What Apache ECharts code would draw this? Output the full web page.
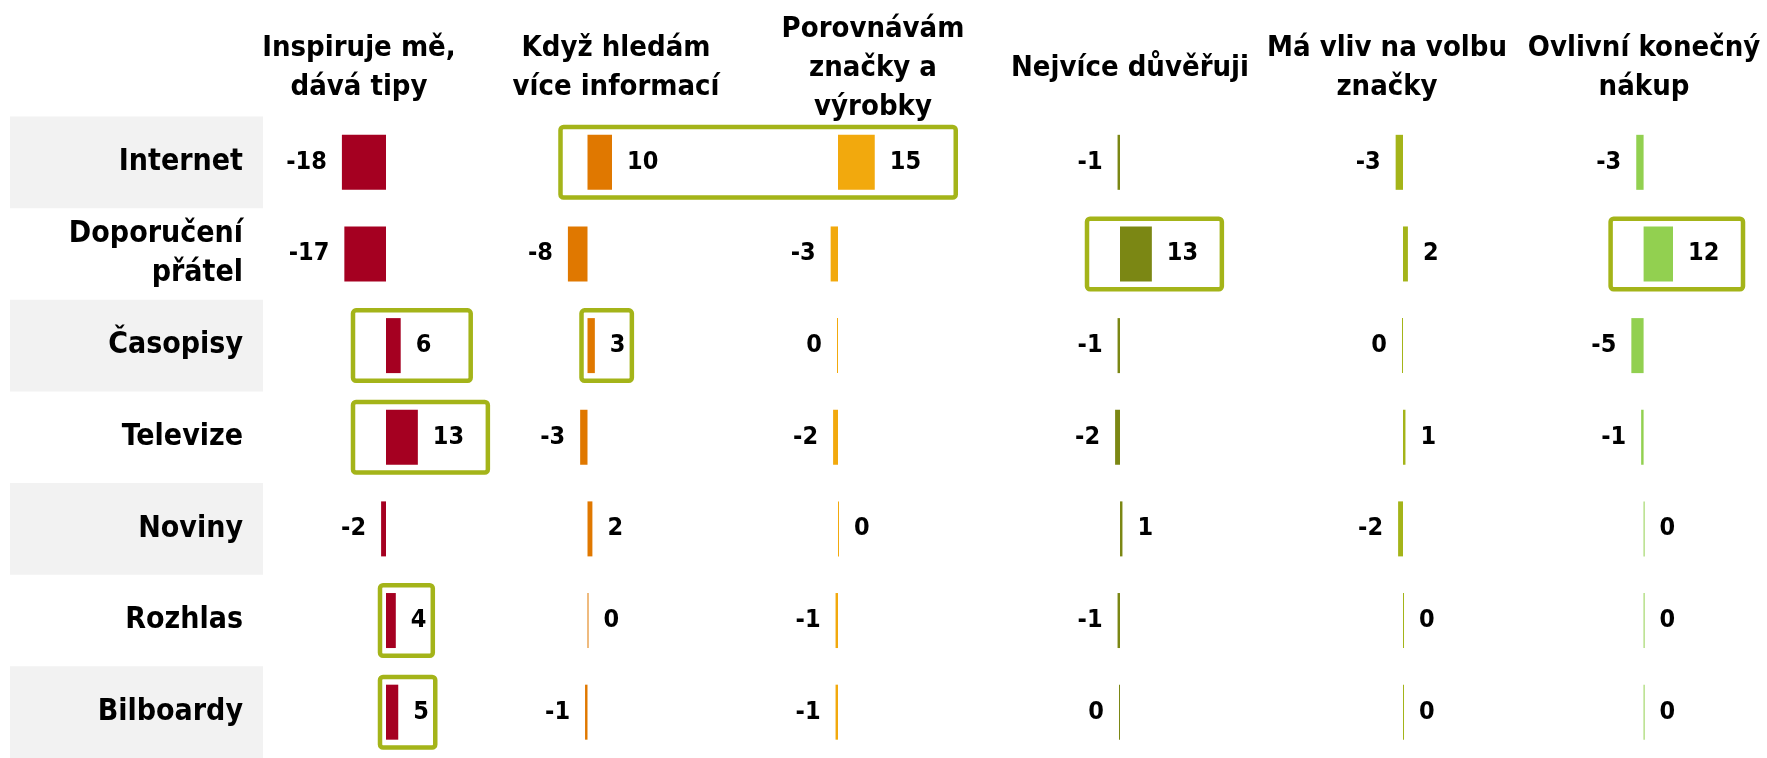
<!DOCTYPE html>
<html>
<head>
<meta charset="utf-8">
<script src="https://cdn.jsdelivr.net/npm/echarts@6/dist/echarts.min.js"></script>
<style>
  html, body { margin: 0; padding: 0; background: #fff; }
  #chart { width: 1767px; height: 758px; }
</style>
</head>
<body>
<div id="chart"></div>
<script>
// rows, top to bottom
var categories = ['Internet', 'Doporučení\npřátel', 'Časopisy', 'Televize', 'Noviny', 'Rozhlas', 'Bilboardy'];
var metrics = ['Inspiruje mě,\ndává tipy', 'Když hledám\nvíce informací', 'Porovnávám\nznačky a\nvýrobky',
  'Nejvíce důvěřuji', 'Má vliv na volbu\nznačky', 'Ovlivní konečný\nnákup'];

// one array per column (same order as categories)
var inspiruje = [-18, -17, 6, 13, -2, 4, 5];
var hledam = [10, -8, 3, -3, 2, 0, -1];
var porovnavam = [15, -3, -0.3, -2, 0, -1, -1];
var duveruji = [-1, 13, -1, -2, 1, -1, -0.3];
var volba = [-3, 2, -0.3, 1, -2, 0, 0];
var nakup = [-3, 12, -5, -1, 0, 0, 0];

// highlighted cells: [row, first column, last column]
var highlights = [[0, 1, 2], [1, 3, 3], [1, 5, 5], [2, 0, 0], [2, 1, 1], [3, 0, 0], [5, 0, 0], [6, 0, 0]];

var columns = [inspiruje, hledam, porovnavam, duveruji, volba, nakup];
var colors = ['#A50021', '#E07800', '#F2A90D', '#7B8714', '#A4B419', '#92D050'];
var zeroX = [386, 587.5, 838, 1120, 1403, 1643.6];
var FONT = '"DejaVu Sans Condensed", "DejaVu Sans", sans-serif';
var unitPx = 2.45;
var span = 20;
var gridTop = 116.5;
var gridBottom = -6.2;

var chart = echarts.init(document.getElementById('chart'));

var grids = [{ left: 10, width: 253, top: gridTop, bottom: gridBottom }];
var xAxes = [{ gridIndex: 0, type: 'value', show: false }];
var yAxes = [{
  gridIndex: 0,
  type: 'category',
  inverse: true,
  position: 'right',
  data: categories,
  axisLine: { show: false },
  axisTick: { show: false },
  splitArea: { show: true, areaStyle: { color: ['#F2F2F2', 'rgba(255,255,255,0)'] } },
  axisLabel: {
    inside: true,
    margin: 20,
    color: '#000',
    fontSize: 30,
    fontWeight: 'bold',
    fontFamily: FONT,
    lineHeight: 39,
    padding: [8, 0, 0, 0]
  }
}];
var series = [];

columns.forEach(function (vals, i) {
  var g = i + 1;
  grids.push({ left: zeroX[i] - span * unitPx, width: 2 * span * unitPx, top: gridTop, bottom: gridBottom });
  xAxes.push({ gridIndex: g, type: 'value', min: -span, max: span, show: false });
  yAxes.push({ gridIndex: g, type: 'category', inverse: true, data: categories, show: false });
  series.push({
    type: 'bar',
    xAxisIndex: g,
    yAxisIndex: g,
    barWidth: 55,
    barMinHeight: 1,
    clip: false,
    itemStyle: { color: colors[i] },
    label: {
      show: true,
      distance: 15,
      color: '#000',
      fontSize: 25,
      fontWeight: 'bold',
      fontFamily: FONT,
      padding: [4, 0, 0, 0],
      formatter: function (p) { return '' + Math.round(p.value); }
    },
    data: vals.map(function (v) {
      return { value: v, label: { position: v < 0 ? 'left' : 'right' } };
    })
  });
});

chart.setOption({
  animation: false,
  grid: grids,
  xAxis: xAxes,
  yAxis: yAxes,
  series: series
});

var headers = metrics.map(function (m, i) {
  return {
    type: 'text',
    x: 359 + 257 * i,
    y: 68,
    style: {
      text: m,
      fill: '#000',
      fontSize: 29,
      fontWeight: 'bold',
      fontFamily: FONT,
      align: 'center',
      verticalAlign: 'middle',
      lineHeight: 39
    }
  };
});

var boxes = highlights.map(function (h) {
  var row = h[0], first = h[1], last = h[2];
  var lastVal = columns[last][row];
  var merged = first !== last;
  var tight = lastVal < 6;
  var zero = chart.convertToPixel({ gridIndex: first + 1 }, [0, row]);
  var end = chart.convertToPixel({ gridIndex: last + 1 }, [Math.max(lastVal, 0), row]);
  var x0 = zero[0] - (tight ? 6 : merged ? 27 : 33);
  var x1 = end[0] + (tight ? 37 : merged ? 81 : 70);
  return {
    type: 'rect',
    z: 10,
    shape: { x: x0, y: zero[1] - 35.25, width: x1 - x0, height: 70.5, r: 3 },
    style: { fill: 'none', stroke: '#A4B419', lineWidth: 4.5 }
  };
});

chart.setOption({ graphic: headers.concat(boxes) });
</script>
</body>
</html>
